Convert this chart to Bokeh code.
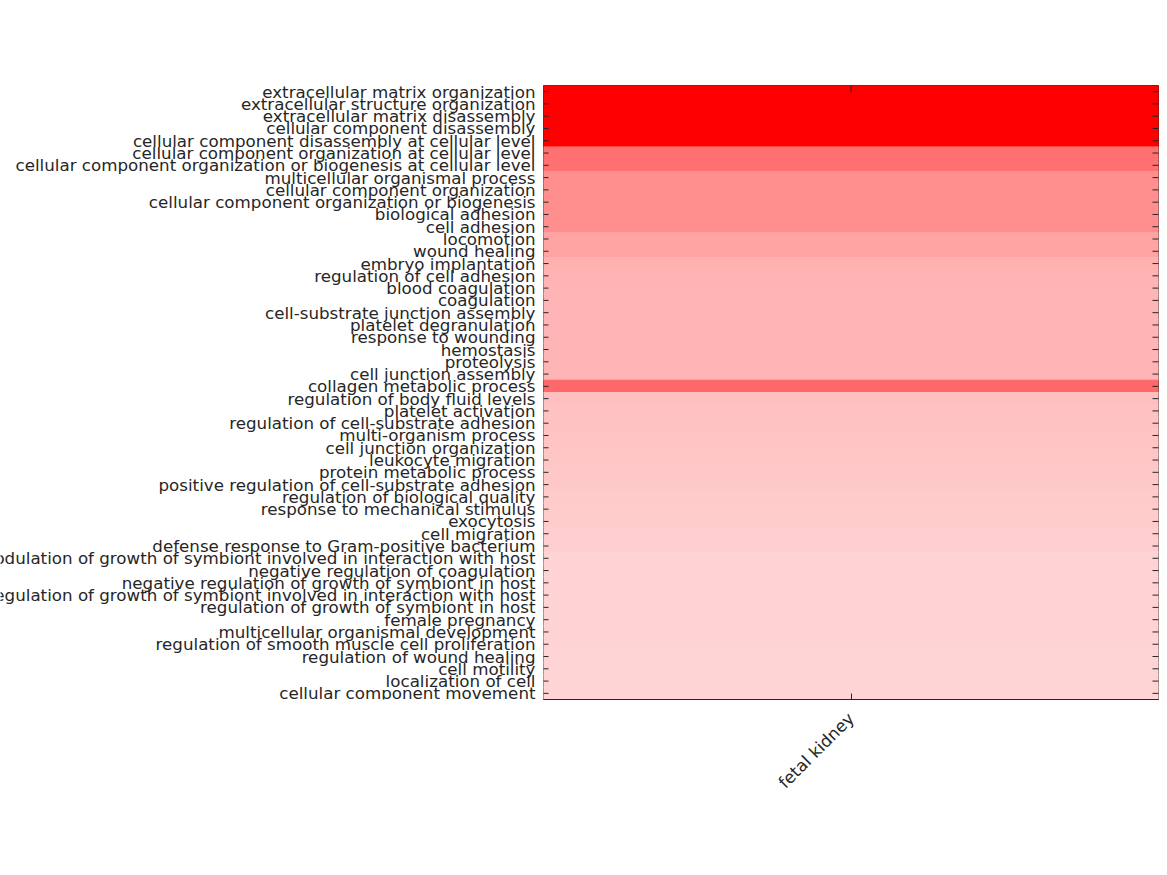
import math
from bokeh.plotting import figure
from bokeh.layouts import row
from bokeh.models import ColumnDataSource, LinearColorMapper, FactorRange, Range1d
from bokeh.core.properties import value
from bokeh.embed import file_html
from bokeh.resources import INLINE

samples = ["fetal kidney"]

terms = [
    "extracellular matrix organization",
    "extracellular structure organization",
    "extracellular matrix disassembly",
    "cellular component disassembly",
    "cellular component disassembly at cellular level",
    "cellular component organization at cellular level",
    "cellular component organization or biogenesis at cellular level",
    "multicellular organismal process",
    "cellular component organization",
    "cellular component organization or biogenesis",
    "biological adhesion",
    "cell adhesion",
    "locomotion",
    "wound healing",
    "embryo implantation",
    "regulation of cell adhesion",
    "blood coagulation",
    "coagulation",
    "cell-substrate junction assembly",
    "platelet degranulation",
    "response to wounding",
    "hemostasis",
    "proteolysis",
    "cell junction assembly",
    "collagen metabolic process",
    "regulation of body fluid levels",
    "platelet activation",
    "regulation of cell-substrate adhesion",
    "multi-organism process",
    "cell junction organization",
    "leukocyte migration",
    "protein metabolic process",
    "positive regulation of cell-substrate adhesion",
    "regulation of biological quality",
    "response to mechanical stimulus",
    "exocytosis",
    "cell migration",
    "defense response to Gram-positive bacterium",
    "modulation of growth of symbiont involved in interaction with host",
    "negative regulation of coagulation",
    "negative regulation of growth of symbiont in host",
    "negative regulation of growth of symbiont involved in interaction with host",
    "regulation of growth of symbiont in host",
    "female pregnancy",
    "multicellular organismal development",
    "regulation of smooth muscle cell proliferation",
    "regulation of wound healing",
    "cell motility",
    "localization of cell",
    "cellular component movement",
]

# enrichment score for fetal kidney (normalised, 1 = strongest)
scores = [
    1.00, 1.00, 1.00, 1.00, 1.00,
    0.56, 0.56,
    0.44, 0.44, 0.44, 0.44, 0.44,
    0.36, 0.36,
    0.31, 0.30, 0.29, 0.29, 0.29, 0.29, 0.29, 0.29, 0.29, 0.29,
    0.59,
    0.25, 0.245, 0.24, 0.235, 0.23, 0.225, 0.22, 0.215, 0.21, 0.205,
    0.20, 0.195, 0.19,
    0.175, 0.175, 0.174, 0.174, 0.173, 0.173, 0.172, 0.172, 0.171,
    0.171, 0.170, 0.170,
]

palette = ["#ff%02x%02x" % (255 - i, 255 - i) for i in range(256)]
mapper = LinearColorMapper(palette=palette, low=0, high=1)

FONT = "DejaVu Sans"
TXT = "#262626"
FS = "16.7px"
H = 870
TOP = 85
BOTTOM = 171

n = len(terms)
yr = FactorRange(factors=list(reversed(terms)))

source = ColumnDataSource(dict(
    sample=[samples[0]] * n,
    term=terms,
    score=scores,
    lx=[1] * n,
    left=[0] * n,
    right=[len(samples)] * n,
))

# ---- label panel (long texts overflow the page's left edge, as in the original)
lab = figure(width=540, height=H, x_range=Range1d(0, 1), y_range=yr,
             x_axis_location=None, y_axis_location=None,
             output_backend="svg", toolbar_location=None,
             min_border_left=0, min_border_right=0,
             min_border_top=TOP, min_border_bottom=BOTTOM)
lab.outline_line_color = None
lab.grid.visible = False
lab.text(x="lx", y="term", text="term", source=source,
         x_offset=-5, text_align="right", text_baseline="middle",
         text_font=value(FONT), text_font_size=value(FS), text_color=TXT)

# ---- heatmap
p = figure(width=619, height=H, x_range=samples, y_range=yr,
           y_axis_location=None,
           output_backend="svg", toolbar_location=None,
           min_border_left=3, min_border_right=1,
           min_border_top=TOP, min_border_bottom=BOTTOM)

p.rect(x="sample", y="term", width=1, height=1, source=source,
       fill_color={"field": "score", "transform": mapper},
       line_color={"field": "score", "transform": mapper}, line_width=1)

# inward row ticks on left and right edges
p.scatter(x="left", y="term", source=source, marker="dash", size=10,
          line_color=TXT, line_width=1)
p.scatter(x="right", y="term", source=source, marker="dash", size=12,
          line_color=TXT, line_width=1)
# inward column tick on top edge
top_src = ColumnDataSource(dict(sample=samples, top=[n] * len(samples)))
p.scatter(x="sample", y="top", source=top_src, marker="dash", size=14,
          angle=math.pi / 2, line_color=TXT, line_width=1)

p.grid.visible = False
p.outline_line_color = TXT
p.outline_line_width = 1

xa = p.xaxis[0]
xa.major_label_orientation = math.pi / 4
xa.major_label_text_font = FONT
xa.major_label_text_font_size = FS
xa.major_label_text_color = TXT
xa.major_label_standoff = 16
xa.major_tick_in = 6
xa.major_tick_out = 0
xa.axis_line_color = TXT
xa.major_tick_line_color = TXT

layout = row(lab, p)
open("out.html", "w").write(file_html(layout, INLINE))
